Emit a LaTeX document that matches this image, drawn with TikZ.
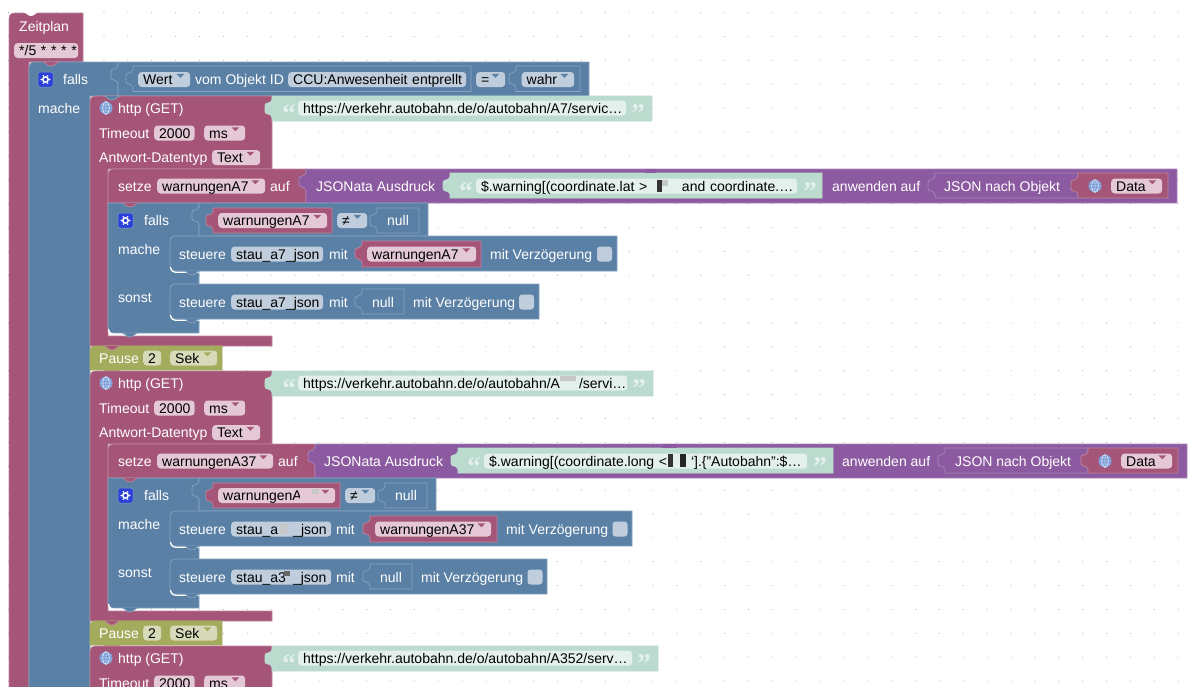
\documentclass[tikz,border=0pt]{standalone}
\usepackage{fontspec}
\setmainfont{Liberation Sans}
\newfontfamily\quotefont{Liberation Serif}
\usetikzlibrary{positioning}
\definecolor{pinkc}{HTML}{A55678}
\definecolor{pinkl}{HTML}{C0839C}
\definecolor{pinkf}{HTML}{E5C8D5}
\definecolor{bluec}{HTML}{5B80A5}
\definecolor{bluel}{HTML}{86A3C0}
\definecolor{bluef}{HTML}{BFCDDC}
\definecolor{greenc}{HTML}{A3AB5C}
\definecolor{greenf}{HTML}{D6DAB8}
\definecolor{purpc}{HTML}{8C5AA0}
\definecolor{purpl}{HTML}{AB84BC}
\definecolor{tealc}{HTML}{BCDBCF}
\definecolor{tealf}{HTML}{E3F0EB}
\definecolor{gearc}{HTML}{2B40D8}
\tikzset{
	pinkb/.style={fill=pinkc, draw=pinkl, line width=.7pt},
	blueb/.style={fill=bluec, draw=bluel, line width=.7pt},
	greenb/.style={fill=greenc, draw=greenc, line width=.7pt},
	purpb/.style={fill=purpc, draw=purpl, line width=.7pt},
	tealb/.style={fill=tealc, draw=tealc, line width=.7pt},
	griddot/.style={fill=black!32},
	lbl/.style={anchor=west, inner sep=0pt, text height=10pt, text depth=0pt, text=white, font=\fontsize{14}{14}\selectfont},
	ctrlbl/.style={lbl, anchor=center},
	fieldbox/.style={anchor=west, rounded corners=3.5pt, inner xsep=5pt, inner ysep=2.5pt, text height=10pt, text depth=0pt, align=left, text=black, font=\fontsize{14}{14}\selectfont},
	fpink/.style={fill=pinkf},
	fblue/.style={fill=bluef},
	fgreen/.style={fill=greenf},
	fteal/.style={fill=tealf},
	fpinkarrow/.style={fill=pinkc},
	fbluearrow/.style={fill=bluec},
	fgreenarrow/.style={fill=greenc},
	qmark/.style={anchor=base, inner sep=0pt, yshift=-14pt, text=tealf, font=\quotefont\bfseries\fontsize{27}{27}\selectfont},
	chkbox/.style={rounded corners=3pt, fill=bluef, minimum size=15pt, inner sep=0pt},
	gearbox/.style={rounded corners=2pt, fill=gearc, draw=bluel, line width=.5pt, minimum size=15pt, inner sep=0pt},
	globeicon/.style={circle, fill=cyan!45!blue!55, minimum size=13pt, inner sep=0pt},
	smudge/.style={fill=black!22}
}
\newcommand{\cornertl}[2]{(#1,#2+6) .. controls (#1,#2+2) and (#1+2,#2) .. (#1+6,#2)}
\newcommand{\cornerbl}[2]{(#1+6,#2) .. controls (#1+2,#2) and (#1,#2-2) .. (#1,#2-6)}
\newcommand{\stmt}[5]{\draw[#1] (#2,#5) -- \cornertl{#2}{#3} -- (#4,#3) -- (#4,#5) -- cycle;}
\newcommand{\stmtr}[5]{\draw[#1] \cornerbl{#2}{#5} -- \cornertl{#2}{#3} -- (#4,#3) -- (#4,#5) -- cycle;
	\draw[white, line width=1.3pt] (#2+.5,#5-4) .. controls (#2+1,#5) and (#2+3,#5+1.3) .. (#2+7,#5+1.3) -- (#2+29,#5+1.3);
	\bump{#1}{#2}{#5}}
\newcommand{\bump}[3]{\filldraw[#1] (#2+14,#3) .. controls (#2+17,#3) and (#2+18,#3+4) .. (#2+22,#3+4) .. controls (#2+26,#3+4) and (#2+27,#3) .. (#2+30,#3);}
\newcommand{\val}[5]{\draw[#1] (#2,#5) -- (#2,#3+21.5) .. controls (#2-1,#3+16.5) and (#2-7,#3+19.5) .. (#2-7,#3+15.5) -- (#2-7,#3+9.5) .. controls (#2-7,#3+5.5) and (#2-1,#3+8.5) .. (#2,#3+3.5) -- (#2,#3) -- (#4,#3) -- (#4,#5) -- cycle;}
\newcommand{\fld}[6]{\pgfmathsetmacro\fldw{#4-#3-10}
	\node[#1, fieldbox, text width=\fldw pt] (#2) at (#3,#5) {\mbox{#6}};}
\newcommand{\ddf}[6]{\fld{#1}{#2}{#3}{#4}{#5}{#6}
	\fill[#1arrow] ([xshift=-14pt,yshift=-2pt]#2.north east) -- ++(8,0) -- ++(-4,4) -- cycle;}
\newcommand{\globe}[3]{\node[globeicon] (#1) at (#2,#3) {};
	\draw[white, line width=.45pt] (#1.west) -- (#1.east) (#2-5.5,#3-3) -- (#2+5.5,#3-3) (#2-5.5,#3+3) -- (#2+5.5,#3+3) (#1.north) -- (#1.south) (#2,#3) ellipse [x radius=3.2, y radius=6.5];}
\newcommand{\gear}[3]{\node[gearbox] (#1) at (#2,#3) {};
	\draw[white, line width=1.5pt] (#2,#3) circle (2.7);
	\foreach \a in {0,60,...,300} \fill[white] (#2,#3) ++(\a:4.2) circle (.95);}
\newcommand{\httptop}{
	\draw[pinkb] (90,346) -- \cornertl{90}{96} -- (272,96) -- (272,169) -- (108,169) -- (108,336) -- (272,336) -- (272,346) -- cycle;
	\globe{globe}{106}{108}
	\node[lbl] (http) at (118,108) {http (GET)};
	\node[lbl] (timeout) at (99,133) {Timeout};
	\fld{fpink}{timeoutval}{154}{194.5}{133}{2000}
	\ddf{fpink}{timeoutunit}{204}{245}{133}{ms}
}
\newcommand{\pausebar}{
	\stmt{greenb}{90}{346}{222}{370}
	\bump{pinkb}{90}{346}
	\node[lbl] (pause) at (99,358) {Pause};
	\fld{fgreen}{pausetime}{143}{161}{358}{2}
	\ddf{fgreen}{pauseunit}{170}{217}{358}{Sek}
	\bump{greenb}{90}{370}
}
\begin{document}
\begin{tikzpicture}[x=1pt, y=-1pt]
	\clip (0,0) rectangle (1200,686);
	\foreach \i in {0,...,49} \foreach \j in {0,...,28} \fill[griddot] ({8.5+23.87*\i},{12.7+23.87*\j}) circle (.55);

	\draw[pinkb] (9,700) -- \cornertl{9}{13} -- (83,13) -- (83,62) -- (29,62) -- (29,700) -- cycle;
	\fill[white] (23,12) .. controls (26,12) and (27,16) .. (31,16) .. controls (35,16) and (36,12) .. (39,12) -- cycle;
	\node[lbl] (zeitplan) at (19,26) {Zeitplan};
	\fld{fpink}{cron}{14}{78}{50.5}{*/5 * * * *}

	\draw[blueb] (29,700) -- \cornertl{29}{62} -- (118,62) -- (118,96) -- (90,96) -- (90,700) -- cycle;
	\bump{pinkb}{29}{62}
	\gear{gearmain}{45.5}{79.5}
	\node[lbl] (fallsmain) at (63,79) {falls};
	\node[lbl] (machemain) at (38,108) {mache};
	\val{blueb}{118}{62}{589}{96}
	\val{blueb}{133}{66}{471}{91.5}
	\ddf{fblue}{wert}{138}{190}{79.5}{Wert}
	\node[lbl] (vomobjekt) at (195,79) {vom Objekt ID};
	\fld{fblue}{objektid}{288}{466}{79.5}{CCU:Anwesenheit entprellt}
	\ddf{fblue}{gleich}{476}{505}{79.5}{=}
	\val{blueb}{516}{66}{580}{91.5}
	\ddf{fblue}{wahr}{521.5}{574}{79.5}{wahr}

	\httptop
	\bump{blueb}{90}{96}
	\val{tealb}{272}{96}{652}{121}
	\node[qmark] (urlopena) at (289,108) {“};
	\fld{fteal}{urla}{298}{626}{108}{https://verkehr.autobahn.de/o/autobahn/A7/servic…}
	\node[qmark] (urlclosea) at (638,108) {”};
	\node[lbl] (antworta) at (99,157) {Antwort-Datentyp};
	\ddf{fpink}{typa}{212}{260}{157.5}{Text}

	\stmt{pinkb}{108}{169}{306}{203}
	\node[lbl] (setzea) at (118,186) {setze};
	\ddf{fpink}{vara}{157}{265}{186}{warnungenA7}
	\node[lbl] (aufa) at (270,186) {auf};
	\val{purpb}{306}{169}{1177}{203}
	\node[lbl] (jsonataa) at (316,186) {JSONata Ausdruck};
	\val{tealb}{450}{173}{822}{198}
	\node[qmark] (exprquotea) at (466,186) {“};
	\fld{fteal}{expra}{476}{797}{186}{\$.warning[(coordinate.lat >\hspace{30pt} and coordinate.…}
	\node[qmark] (exprclosea) at (810,186) {”};
	\fill[black!80] (657,180) rectangle (662,192);
	\fill[smudge] (662,180) rectangle (668,186);
	\fill[purpc] (645,169) rectangle (656,173);
	\node[lbl] (anwendena) at (832,186) {anwenden auf};
	\val{purpb}{935}{173}{1078}{198}
	\node[lbl] (jsonobja) at (944,186) {JSON nach Objekt};
	\val{pinkb}{1078}{173}{1168}{198}
	\globe{globedataa}{1095}{186}
	\ddf{fpink}{dataa}{1111}{1162}{186}{Data}

	\draw[blueb] \cornerbl{108}{333} -- (108,203) -- (199,203) -- (199,333) -- cycle;
	\draw[white, line width=1.3pt] (108.5,329) .. controls (109,333) and (111,334.3) .. (115,334.3) -- (136,334.3);
	\bump{blueb}{108}{333}
	\bump{pinkb}{108}{203}
	\gear{gearb}{125.5}{220.5}
	\node[lbl] (fallsa) at (144,220) {falls};
	\node[lbl] (machea) at (118,249) {mache};
	\node[lbl] (sonsta) at (118,297) {sonst};
	\val{blueb}{199}{203}{428}{236}
	\val{pinkb}{213}{208}{332}{233}
	\ddf{fpink}{conda}{218}{327}{220.5}{warnungenA7}
	\ddf{fblue}{nea}{337}{367}{220.5}{≠}
	\val{blueb}{377}{208}{419}{233}
	\node[ctrlbl] (nulla) at (398,220.5) {null};

	\stmtr{blueb}{170}{236}{617}{271}
	\node[lbl] (steuerea) at (179,254) {steuere};
	\fld{fblue}{staua}{231}{323}{254}{stau\_a7\_json}
	\node[lbl] (mita) at (329,254) {mit};
	\val{pinkb}{362}{241}{481}{267}
	\ddf{fpink}{setvara}{367}{476}{254}{warnungenA7}
	\node[lbl] (verza) at (490,254) {mit Verzögerung};
	\node[chkbox] (chka) at (604.5,254) {};

	\stmtr{blueb}{170}{284}{539}{319}
	\node[lbl] (steuereb) at (179,302) {steuere};
	\fld{fblue}{staub}{231}{323}{302}{stau\_a7\_json}
	\node[lbl] (mitb) at (329,302) {mit};
	\val{blueb}{362}{289}{404}{314}
	\node[ctrlbl] (nullb) at (383,302) {null};
	\node[lbl] (verzb) at (413,302) {mit Verzögerung};
	\node[chkbox] (chkb) at (526.5,302) {};
	\pausebar

	\begin{scope}[shift={(0,275)}, name prefix=two]
		\httptop
		\val{tealb}{272}{96}{653}{121}
		\node[qmark] (urlopen) at (289,108) {“};
		\fld{fteal}{url}{298}{627}{108}{https://verkehr.autobahn.de/o/autobahn/A\hspace{19pt}/servi…}
		\fill[smudge] (560,101) rectangle (576,106);
		\node[qmark] (urlclose) at (639,108) {”};
		\node[lbl] (antwort) at (99,157) {Antwort-Datentyp};
		\ddf{fpink}{typ}{212}{260}{157.5}{Text}

		\stmt{pinkb}{108}{169}{315}{203}
		\node[lbl] (setze) at (118,186) {setze};
		\ddf{fpink}{var}{157}{273}{186}{warnungenA37}
		\node[lbl] (auf) at (278,186) {auf};
		\val{purpb}{315}{169}{1187}{203}
		\node[lbl] (jsonata) at (324,186) {JSONata Ausdruck};
		\val{tealb}{458}{173}{833}{198}
		\node[qmark] (expropen) at (474,186) {“};
		\fld{fteal}{expr}{484}{807}{186}{\$.warning[(coordinate.long <\hspace{24pt}`].\{"Autobahn":\$…}
		\node[qmark] (exprclose) at (820,186) {”};
		\fill[black!80] (668,179) rectangle (673,192);
		\fill[black!85] (680,179) rectangle (686,192);
		\fill[purpc] (662,169) rectangle (677,173);
		\node[lbl] (anwenden) at (842,186) {anwenden auf};
		\val{purpb}{945}{173}{1088}{198}
		\node[lbl] (jsonobj) at (955,186) {JSON nach Objekt};
		\val{pinkb}{1088}{173}{1178}{198}
		\globe{globedata}{1105}{186}
		\ddf{fpink}{data}{1121}{1172}{186}{Data}

		\draw[blueb] \cornerbl{108}{333} -- (108,203) -- (199,203) -- (199,333) -- cycle;
		\draw[white, line width=1.3pt] (108.5,329) .. controls (109,333) and (111,334.3) .. (115,334.3) -- (136,334.3);
		\bump{blueb}{108}{333}
		\bump{pinkb}{108}{203}
		\gear{gear}{125.5}{220.5}
		\node[lbl] (falls) at (144,220) {falls};
		\node[lbl] (mache) at (118,249) {mache};
		\node[lbl] (sonst) at (118,297) {sonst};
		\val{blueb}{199}{203}{436}{236}
		\val{pinkb}{213}{208}{340}{233}
		\ddf{fpink}{cond}{218}{335}{220.5}{warnungenA}
		\fill[pinkf] (300,214) rectangle (318,226);
		\fill[smudge] (312,214) rectangle (319,219);
		\ddf{fblue}{ne}{345}{375}{220.5}{≠}
		\val{blueb}{385}{208}{427}{233}
		\node[ctrlbl] (nullc) at (406,220.5) {null};

		\stmtr{blueb}{170}{236}{632}{271}
		\node[lbl] (steuere) at (179,254) {steuere};
		\fld{fblue}{stau}{231}{331}{254}{stau\_a\hspace{15pt}\_json}
		\fill[smudge] (280,249) rectangle (287,259);
		\node[lbl] (mit) at (336,254) {mit};
		\val{pinkb}{370}{241}{497}{267}
		\ddf{fpink}{setvar}{375}{491}{254}{warnungenA37}
		\node[lbl] (verz) at (506,254) {mit Verzögerung};
		\node[chkbox] (chk) at (620,254) {};

		\stmtr{blueb}{170}{284}{547}{319}
		\node[lbl] (steuerec) at (179,302) {steuere};
		\fld{fblue}{stauc}{231}{331}{302}{stau\_a3\hspace{7pt}\_json}
		\fill[black!60] (284,296) rectangle (290,301);
		\node[lbl] (mitc) at (336,302) {mit};
		\val{blueb}{370}{289}{412}{314}
		\node[ctrlbl] (nulld) at (391,302) {null};
		\node[lbl] (verzc) at (421,302) {mit Verzögerung};
		\node[chkbox] (chkc) at (535,302) {};
		\pausebar
	\end{scope}

	\begin{scope}[shift={(0,550)}, name prefix=three]
		\httptop
		\val{tealb}{272}{96}{658}{121}
		\node[qmark] (urlopen) at (289,108) {“};
		\fld{fteal}{url}{298}{632}{108}{https://verkehr.autobahn.de/o/autobahn/A352/serv…}
		\node[qmark] (urlclose) at (644,108) {”};
	\end{scope}
\end{tikzpicture}
\end{document}
